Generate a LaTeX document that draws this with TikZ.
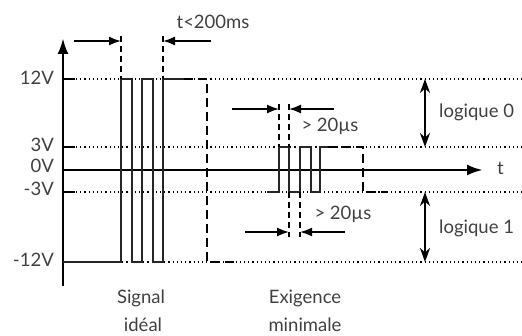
\documentclass[tikz,border=0pt]{standalone}
\usepackage{fontspec}
\setmainfont{Lato}
\usetikzlibrary{arrows.meta}
\definecolor{txt}{HTML}{404040}
\tikzset{
  lbl/.style={inner sep=0pt, text=txt, font=\fontsize{18.5}{20}\selectfont},
  axisline/.style={line width=2.8pt},
  tickline/.style={line width=2.8pt},
  levelline/.style={line width=1.2pt, dash pattern=on 1.2pt off 3pt},
  sigline/.style={line width=1.8pt, black!85, line join=miter},
  sigdash/.style={line width=2.8pt, dash pattern=on 9pt off 5pt},
  guide/.style={line width=1.6pt, dash pattern=on 6pt off 4pt},
  dimarrow/.style={line width=1.7pt, -{Latex[length=12pt,width=9pt]}},
  logarrow/.style={line width=2.4pt, {Stealth[length=14pt,width=10pt]}-{Stealth[length=14pt,width=10pt]}},
}
\begin{document}
\begin{tikzpicture}[x=1pt,y=-1pt]
\useasboundingbox (0,0) rectangle (522,336);
% levels
\coordinate (o) at (63,170);
% dotted level lines
\foreach \yy in {79,147,192,262} \draw[levelline] (76,\yy) -- (522,\yy);
% axes
\coordinate (ybot) at (63,286);
\coordinate (ytop) at (63,38);
\coordinate (tend) at (483,170);
\draw[axisline, -{Latex[length=16pt,width=11pt]}] (ybot) -- (ytop);
\draw[axisline, -{Latex[length=16pt,width=11pt]}] (o) -- (tend);
\node[lbl, anchor=west] (t) at (497,168) {t};
% ticks
\foreach \yy in {79,147,192,262} \draw[tickline] (62,\yy) -- (75,\yy);
% level labels
\node[lbl, anchor=east] (l12) at (54,78) {12V};
\node[lbl, anchor=east] (l3) at (54,145) {3V};
\node[lbl, anchor=east] (l0) at (54,166) {0V};
\node[lbl, anchor=east] (lm3) at (54,189) {-3V};
\node[lbl, anchor=east] (lm12) at (54,260) {-12V};
% ideal signal
\coordinate (a0) at (63,262);
\coordinate (a1) at (121,262);
\coordinate (a2) at (121,79);
\coordinate (a3) at (163,79);
\coordinate (a4) at (184,79);
\coordinate (a5) at (207,79);
\coordinate (a6) at (207,262);
\coordinate (a7) at (234,262);
\draw[sigline] (a0) -- (a1) -- (a2) -- (132,79) -- (132,262) -- (142,262) -- (142,79) -- (153,79) -- (153,262) -- (163,262) -- (a3) -- (a4);
\draw[sigdash] (a4) -- (a5) -- (a6) -- (a7);
% dimension t<200ms
\coordinate (g1) at (121,36);
\coordinate (g2) at (163,36);
\draw[guide] (g1) -- (a2);
\draw[guide] (g2) -- (a3);
\coordinate (d1s) at (74,41);
\coordinate (d1e) at (121,41);
\coordinate (d2s) at (211,41);
\coordinate (d2e) at (163,41);
\draw[dimarrow] (d1s) -- (d1e);
\draw[dimarrow] (d2s) -- (d2e);
\node[lbl] (tlim) at (213,22) {t<200ms};
% minimal signal
\coordinate (b0) at (267,192);
\coordinate (b1) at (279,192);
\coordinate (b2) at (279,147);
\coordinate (b3) at (289,147);
\coordinate (b4) at (289,192);
\coordinate (b5) at (300,192);
\coordinate (b6) at (300,147);
\coordinate (b7) at (320,147);
\coordinate (b8) at (328,147);
\coordinate (b9) at (363,147);
\coordinate (b10) at (363,192);
\coordinate (b11) at (387,192);
\draw[sigline] (b0) -- (b1) -- (b2) -- (b3) -- (b4) -- (b5) -- (b6) -- (311,147) -- (311,192) -- (320,192) -- (b7) -- (b8);
\draw[sigdash] (b8) -- (b9) -- (b10) -- (b11);
% top >20us
\draw[guide] (279,104) -- (b2);
\draw[guide] (289,104) -- (b3);
\draw[dimarrow] (232,109) -- (279,109);
\draw[dimarrow] (334,109) -- (289,109);
\node[lbl] (w1) at (330,126) {> 20µs};
% bottom >20us
\draw[guide] (b4) -- (289,237);
\draw[guide] (b5) -- (300,237);
\draw[dimarrow] (245,232) -- (289,232);
\draw[dimarrow] (345,232) -- (300,232);
\node[lbl] (w2) at (343,214) {> 20µs};
% logic arrows
\coordinate (p0t) at (425,79);
\coordinate (p0b) at (425,147);
\coordinate (p1t) at (425,192);
\coordinate (p1b) at (425,262);
\draw[logarrow] (p0t) -- (p0b);
\draw[logarrow] (p1t) -- (p1b);
\node[lbl, anchor=west] (lg0) at (439,112) {logique 0};
\node[lbl, anchor=west] (lg1) at (439,228) {logique 1};
% captions
\node[lbl] (s1) at (141,298) {Signal};
\node[lbl] (s2) at (143,325) {idéal};
\node[lbl] (e1) at (305,298) {Exigence};
\node[lbl] (e2) at (305,325) {minimale};
\end{tikzpicture}
\end{document}
